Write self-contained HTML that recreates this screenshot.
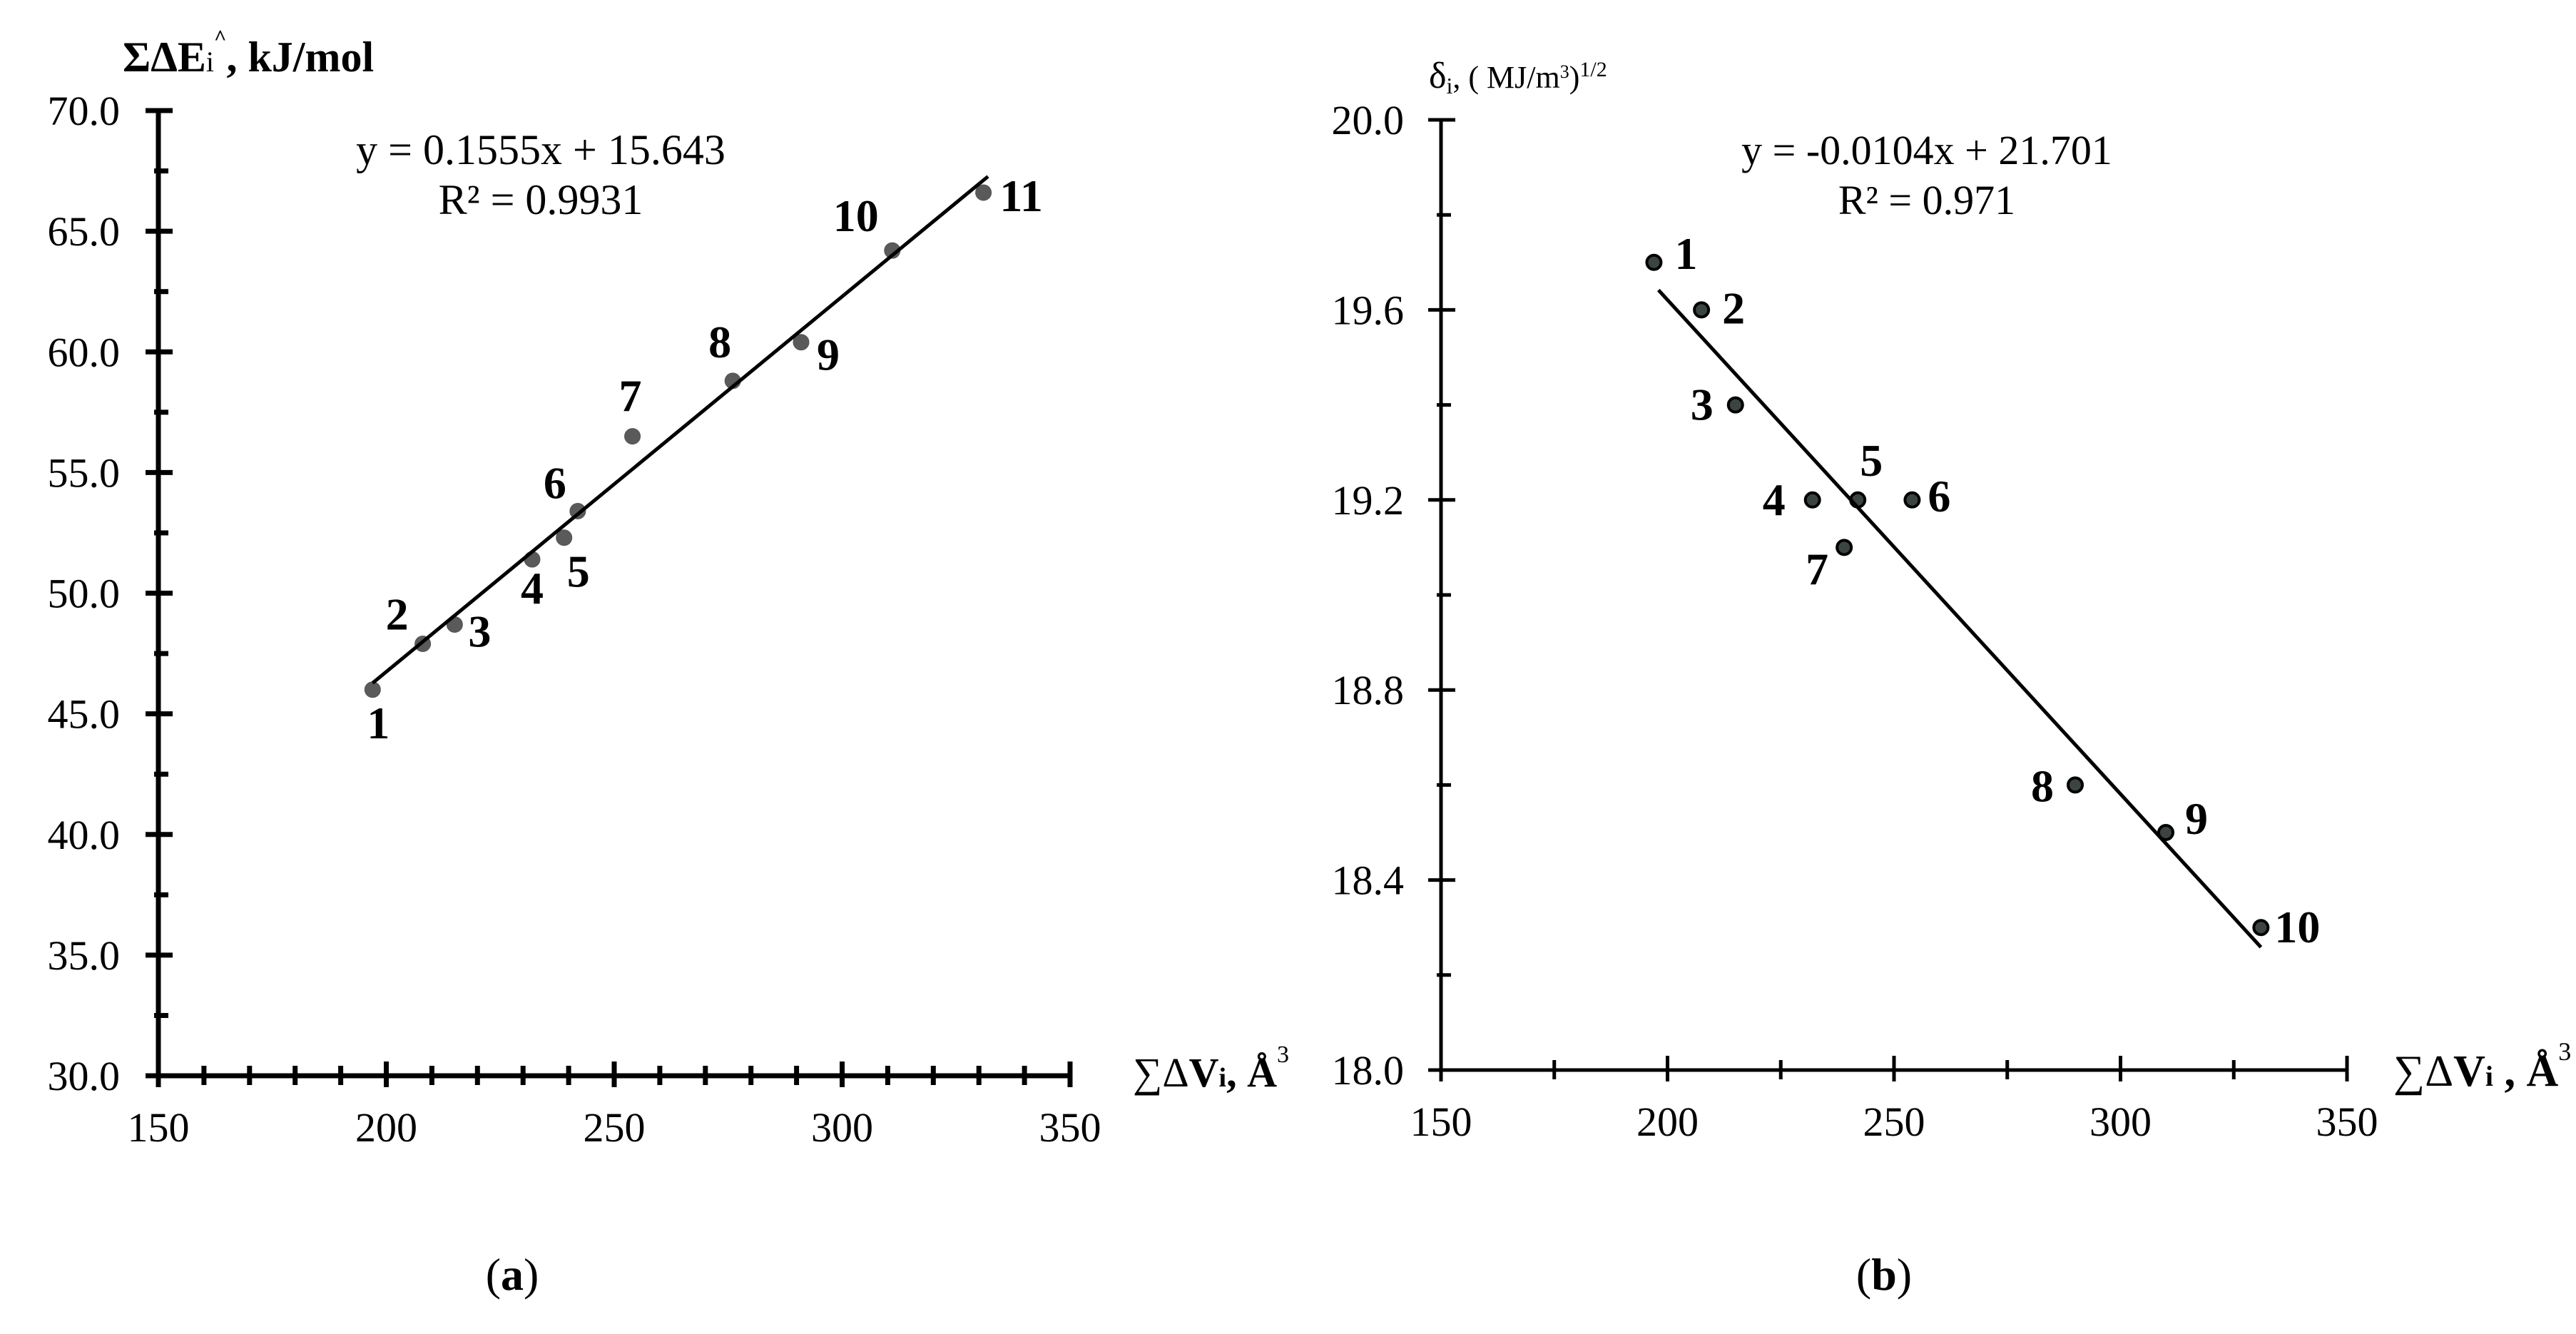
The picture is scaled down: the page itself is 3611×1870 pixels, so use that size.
<!DOCTYPE html>
<html><head><meta charset="utf-8">
<style>
html,body{margin:0;padding:0;background:#fff;}
svg{display:block;}
text{font-family:"Liberation Serif",serif;fill:#000;}
</style></head>
<body>
<svg id="svg" width="3611" height="1870" viewBox="0 0 3611 1870" xmlns="http://www.w3.org/2000/svg">
<g id="ga"></g>
<g id="gb"></g>
<text x="718" y="1808" font-size="64" text-anchor="middle">(<tspan font-weight="bold">a</tspan>)</text>
<text x="2641" y="1808" font-size="64" text-anchor="middle">(<tspan font-weight="bold">b</tspan>)</text>
<text x="172" y="100" font-size="60" font-weight="bold">ΣΔE<tspan font-size="40" font-weight="normal">i</tspan><tspan font-size="30" dy="-38">^</tspan><tspan dy="38">, kJ/mol</tspan></text>
<text x="2003" y="123" font-size="52">δ<tspan font-size="32" dy="8">i</tspan><tspan font-size="44" dy="-8">, ( MJ/m</tspan><tspan font-size="26" dy="-14">3</tspan><tspan font-size="44" dy="14">)</tspan><tspan font-size="30" dy="-16">1/2</tspan></text>
<text x="1588" y="1523" font-size="58" font-weight="bold"><tspan font-weight="normal">∑Δ</tspan>V<tspan font-size="38">i</tspan>, Å<tspan font-size="34" font-weight="normal" dy="-34">3</tspan></text>
<text x="3355" y="1522" font-size="62" font-weight="bold"><tspan font-weight="normal">∑Δ</tspan>V<tspan font-size="40">i</tspan> , Å<tspan font-size="36" font-weight="normal" dy="-36">3</tspan></text>
<text x="758" y="230" font-size="60" text-anchor="middle">y = 0.1555x  + 15.643</text>
<text x="758" y="300" font-size="60" text-anchor="middle">R² = 0.9931</text>
<text x="2701" y="230" font-size="58" text-anchor="middle">y = -0.0104x + 21.701</text>
<text x="2701" y="300" font-size="58" text-anchor="middle">R² = 0.971</text>
</svg>
<script>
const NS="http://www.w3.org/2000/svg";
// Chart A data
const aX=[197,208,215,232,239,242,254,276,291,311,331];
const aY=[46.0,47.9,48.7,51.4,52.3,53.4,56.5,58.8,60.4,64.2,66.6];
const aLabels=["1","2","3","4","5","6","7","8","9","10","11"];
const aXTicks=[150,200,250,300,350];
const aYTicks=["30.0","35.0","40.0","45.0","50.0","55.0","60.0","65.0","70.0"];
const aFit=[0.1555,15.643];
const aFitRange=[197,332];
// Chart B data
const bX=[197,207.5,215,232,242,254,239,290,310,331];
const bY=[19.7,19.6,19.4,19.2,19.2,19.2,19.1,18.6,18.5,18.3];
const bLabels=["1","2","3","4","5","6","7","8","9","10"];
const bXTicks=[150,200,250,300,350];
const bYTicks=["18.0","18.4","18.8","19.2","19.6","20.0"];
const bFit=[-0.0104,21.701];
const bFitRange=[198,331];

const aOff=[[8,46],[-36,-42],[35,9],[0,40],[20,47],[-32,-40],[-3,-57],[-18,-55],[38,17],[-51,-49],[53,4]];
const bOff=[[45,-13],[45,-3],[-47,-1],[-54,-1],[19,-56],[38,-6],[-38,30],[-46,1],[43,-20],[51,-1]];

function el(tag,attrs,parent){const e=document.createElementNS(NS,tag);for(const k in attrs)e.setAttribute(k,attrs[k]);parent.appendChild(e);return e;}

function draw(g,cfg){
  const sx=v=>cfg.x0+(v-cfg.xmin)/(cfg.xmax-cfg.xmin)*(cfg.x1-cfg.x0);
  const sy=v=>cfg.y0-(v-cfg.ymin)/(cfg.ymax-cfg.ymin)*(cfg.y0-cfg.y1);
  const sw=cfg.sw;
  let a=el('line',{x1:cfg.x0,y1:cfg.y0,x2:cfg.x1,y2:cfg.y0,stroke:'#000','stroke-width':sw},g);
  
  
  a=el('line',{x1:cfg.x0,y1:cfg.y0+sw/2,x2:cfg.x0,y2:cfg.y1,stroke:'#000','stroke-width':sw},g);
  
  
  for(let v=cfg.xmin;v<=cfg.xmax+1e-9;v+=cfg.xminor){
    const major=Math.abs(((v-cfg.xmin)%50))<1e-6;
    const t=el('line',{x1:sx(v),x2:sx(v),y1:cfg.y0-(major?20:14),y2:cfg.y0+(major?16:13),stroke:'#000','stroke-width':sw},g);
    
    
  }
  cfg.xt.forEach(v=>{
    const t=el('text',{x:sx(v),y:cfg.y0+92,'font-size':cfg.fs,'text-anchor':'middle'},g);
    t.textContent=v;
    
    
  });
  const n=Math.round((cfg.ymax-cfg.ymin)/cfg.yminor);
  for(let i=0;i<=n;i++){
    const v=cfg.ymin+i*cfg.yminor;
    const major=i%cfg.ymajorEvery===0;
    const t=el('line',{x1:cfg.x0-(major?18:6),x2:cfg.x0+(major?20:14),y1:sy(v),y2:sy(v),stroke:'#000','stroke-width':sw},g);
    
    
  }
  cfg.yt.forEach(s=>{
    const t=el('text',{x:cfg.x0-cfg.lblgap,y:sy(parseFloat(s))+20,'font-size':cfg.fs,'text-anchor':'end'},g);
    t.textContent=s;
    
    
  });
  cfg.xs.forEach((xv,i)=>{
    const c=el('circle',{cx:sx(xv),cy:sy(cfg.ys[i]),r:cfg.r,fill:cfg.fill,stroke:cfg.pstroke,'stroke-width':cfg.psw},g);
    
    
  });
  const f=cfg.fit,fr=cfg.fr;
  const l=el('line',{x1:sx(fr[0]),y1:sy(f[0]*fr[0]+f[1]),x2:sx(fr[1]),y2:sy(f[0]*fr[1]+f[1]),stroke:'#000','stroke-width':5},g);
  
  
  cfg.xs.forEach((xv,i)=>{
    const o=cfg.off[i]||[20,-20];
    const t=el('text',{x:sx(xv)+o[0],y:sy(cfg.ys[i])+o[1]+22,'font-size':64,'font-weight':'bold','text-anchor':'middle'},g);
    t.textContent=cfg.labels[i];
    
    
  });
}
draw(document.getElementById('ga'),{x0:222,x1:1500,y0:1508,y1:155,xmin:150,xmax:350,ymin:30,ymax:70,
  xminor:10,yminor:2.5,ymajorEvery:2,xt:aXTicks,yt:aYTicks,xs:aX,ys:aY,labels:aLabels,off:aOff,
  fit:aFit,fr:aFitRange,sw:7,fs:58,lblgap:54,r:11,fill:'#5a5a5a',pstroke:'#555',psw:1});
draw(document.getElementById('gb'),{x0:2020,x1:3290,y0:1500,y1:168,xmin:150,xmax:350,ymin:18,ymax:20,
  xminor:25,yminor:0.2,ymajorEvery:2,xt:bXTicks,yt:bYTicks,xs:bX,ys:bY,labels:bLabels,off:bOff,
  fit:bFit,fr:bFitRange,sw:5,fs:58,lblgap:52,r:10,fill:'#3c4442',pstroke:'#000',psw:4});
</script>
</body></html>
